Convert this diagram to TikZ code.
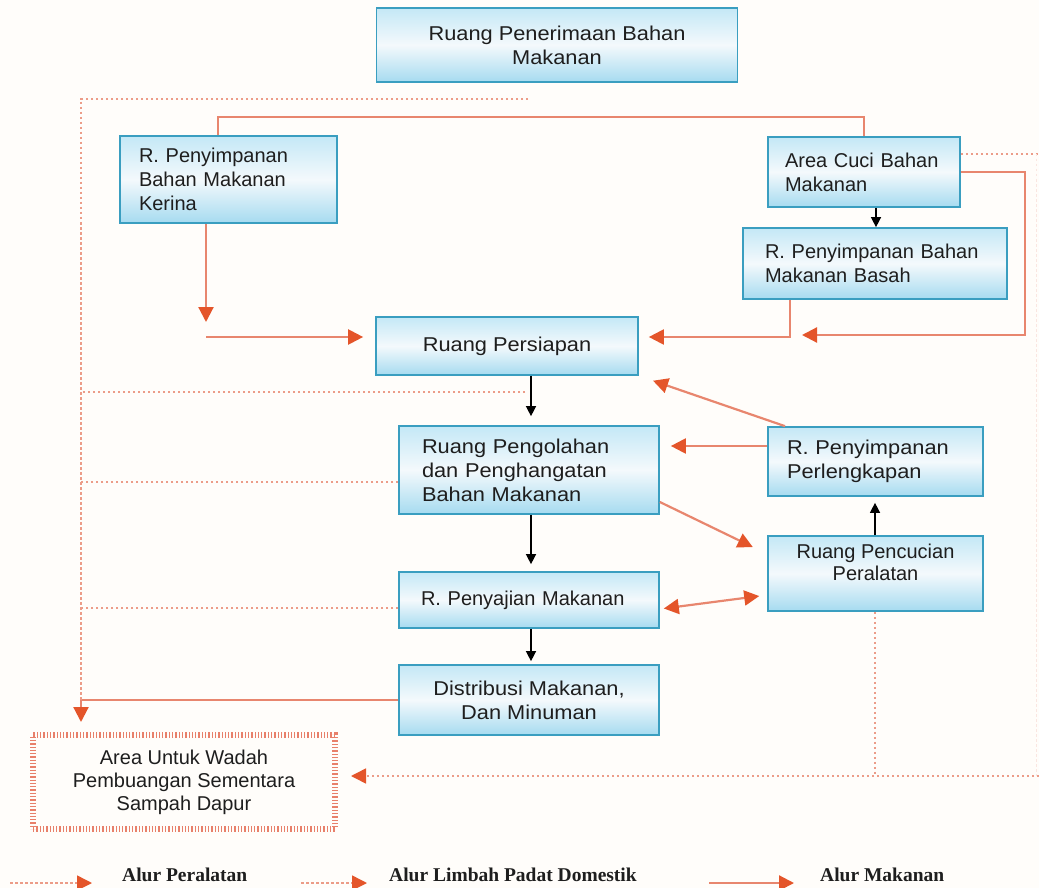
\documentclass[tikz,border=0pt]{standalone}
\usepackage{fontspec}
\setmainfont{Liberation Serif}
\newfontfamily\sansbox{Liberation Sans}
\newfontfamily\sanswide[FakeStretch=1.09]{Liberation Sans}
\usetikzlibrary{arrows.meta,calc}
\definecolor{bgc}{HTML}{FFFDFA}
\definecolor{boxline}{HTML}{3A9EC0}
\definecolor{boxtop}{HTML}{C4E8F6}
\definecolor{boxmid}{HTML}{F4F9FC}
\definecolor{boxbot}{HTML}{A6DBF0}
\definecolor{foodc}{HTML}{E8866E}
\definecolor{tipc}{HTML}{E4552A}
\definecolor{wastec}{HTML}{EC9C88}
\definecolor{hatchc}{HTML}{E8806A}
\definecolor{txt}{HTML}{1E1E1E}
\begin{document}
\begin{tikzpicture}[x=1pt,y=-1pt,
  box/.style={draw=boxline,line width=1.7pt,top color=boxtop,bottom color=boxbot,middle color=boxmid,
    inner sep=0pt,text=txt,font=\sansbox\fontsize{20}{24}\selectfont},
  wide/.style={font=\sanswide\fontsize{20}{24}\selectfont},
  lbox/.style={box,align=left},
  cbox/.style={box,align=center},
  food/.style={draw=foodc,line width=2.2pt},
  ftip/.style={-{Triangle[length=15pt,width=15pt,color=tipc]}},
  fboth/.style={{Triangle[length=15pt,width=15pt,color=tipc]}-{Triangle[length=15pt,width=15pt,color=tipc]}},
  flow/.style={draw=black,line width=1.4pt,-{Triangle[length=10pt,width=10pt]}},
  waste/.style={draw=wastec,line width=1.5pt,dash pattern=on 2.5pt off 2.5pt},
  faint/.style={draw=wastec!25,line width=1pt,dash pattern=on 2.5pt off 2.5pt},
  legtext/.style={anchor=west,inner sep=0pt,text=txt,font=\fontsize{19.5}{21}\selectfont\bfseries}
]
\fill[bgc] (0,0) rectangle (1039,888);
\useasboundingbox (0,0) rectangle (1039,888);

% boxes
\node[cbox,wide,minimum width=361pt,minimum height=74pt] (pen) at (557,45) {Ruang Penerimaan Bahan\\Makanan};
\node[lbox,minimum width=217pt,minimum height=87pt,text width=179pt] (ker) at (228.5,179.5) {R. Penyimpanan\\Bahan Makanan\\Kerina};
\node[lbox,minimum width=192pt,minimum height=70pt,text width=158pt] (cuci) at (864,172) {Area Cuci Bahan\\Makanan};
\node[lbox,minimum width=264pt,minimum height=71pt,text width=220pt] (basah) at (875,263.5) {R. Penyimpanan Bahan\\Makanan Basah};
\node[cbox,wide,minimum width=262pt,minimum height=58pt] (pers) at (507,346) {Ruang Persiapan};
\node[lbox,wide,minimum width=260pt,minimum height=88pt,text width=214pt] (peng) at (529,470) {Ruang Pengolahan\\dan Penghangatan\\Bahan Makanan};
\node[lbox,minimum width=260pt,minimum height=56pt,text width=216pt] (saji) at (529,600) {R. Penyajian Makanan};
\node[cbox,wide,minimum width=260pt,minimum height=70pt] (dist) at (529,700) {Distribusi Makanan,\\Dan Minuman};
\node[lbox,wide,minimum width=215pt,minimum height=69pt,text width=177pt] (lengk) at (875.5,461.5) {R. Penyimpanan\\Perlengkapan};
\node[cbox,minimum width=215pt,minimum height=75pt,font=\sansbox\fontsize{20}{22}\selectfont] (cucip) at (875.5,573.5) {Ruang Pencucian\\Peralatan\\\mbox{}};
\node[draw=hatchc,line width=6pt,dash pattern=on 1.3pt off 2pt,minimum width=302pt,minimum height=94pt,
  inner sep=0pt,align=center,text=txt,font=\sansbox\fontsize{20}{23}\selectfont] (sampah) at (184,782)
  {Area Untuk Wadah\\Pembuangan Sementara\\Sampah Dapur};

% food flow (solid)
\draw[food] (ker.north -| 218,0) -- (218,117) -| (cuci.north);
\coordinate (kerend) at (206,322);
\draw[food,ftip] (ker.south -| 206,0) -- (kerend);
\coordinate (prepstart) at (206,337);
\draw[food,ftip,shorten >=12pt] (prepstart) -- (pers.west |- 0,337);
\draw[food,ftip,shorten >=10pt] (basah.south -| 790,0) |- (pers.east |- 0,337);
\coordinate (cuciend) at (802,335);
\draw[food,ftip] (cuci.east |- 0,172) -- (1025,172) -- (1025,335) -- (cuciend);
\draw[food,ftip,shorten >=15pt] (lengk.north -| 785,0) -- (pers.south east);
\draw[food,ftip,shorten >=11pt] (lengk.west |- 0,446) -- (peng.east |- 0,446);
\draw[food,ftip,shorten >=16pt] (peng.east |- 0,502) -- (cucip.west |- 0,554);
\draw[food,fboth,shorten <=4pt,shorten >=8pt] (saji.east |- 0,609) -- (cucip.west |- 0,595);
\draw[food,ftip,shorten >=10pt] (dist.west |- 0,700) -| (sampah.north -| 81,0);

% black flow
\draw[flow] (cuci.south -| 876,0) -- (basah.north -| 876,0);
\draw[flow,shorten >=9pt] (pers.south -| 531,0) -- (peng.north -| 531,0);
\draw[flow,shorten >=7pt] (peng.south -| 531,0) -- (saji.north -| 531,0);
\draw[flow,shorten >=3pt] (saji.south -| 531,0) -- (dist.north -| 531,0);
\draw[flow,shorten >=6pt] (cucip.north -| 875,0) -- (lengk.south -| 875,0);

% waste flow (dotted)
\coordinate (wtop) at (528,99);
\coordinate (wcorner) at (81,99);
\coordinate (wbottom) at (81,700);
\draw[waste] (wtop) -- (wcorner) -- (wbottom);
\coordinate (w2s) at (525,392);
\draw[waste] (w2s) -- (81,392);
\draw[waste] (peng.west |- 0,482) -- (81,482);
\draw[waste] (saji.west |- 0,608) -- (81,608);
\coordinate (wright) at (1039,776);
\coordinate (wrighttop) at (1039,154);
\draw[waste] (cuci.east |- 0,154) -- (wrighttop);
\draw[faint] (1036,154) -- (1036,776);
\draw[waste] (cucip.south -| 875,0) -- (875,776);
\draw[waste,ftip,shorten >=13pt] (wright) -- (sampah.east |- 0,776);

% legend
\coordinate (l1a) at (10,883); \coordinate (l1b) at (92,883);
\coordinate (l2a) at (301,883); \coordinate (l2b) at (367,883);
\coordinate (l3a) at (709,883); \coordinate (l3b) at (794,883);
\draw[waste,ftip] (l1a) -- (l1b);
\draw[waste,ftip] (l2a) -- (l2b);
\draw[food,ftip] (l3a) -- (l3b);
\node[legtext] (lt1) at (122,875) {Alur Peralatan};
\node[legtext] (lt2) at (389,875) {Alur Limbah Padat Domestik};
\node[legtext] (lt3) at (820,875) {Alur Makanan};
\end{tikzpicture}
\end{document}
